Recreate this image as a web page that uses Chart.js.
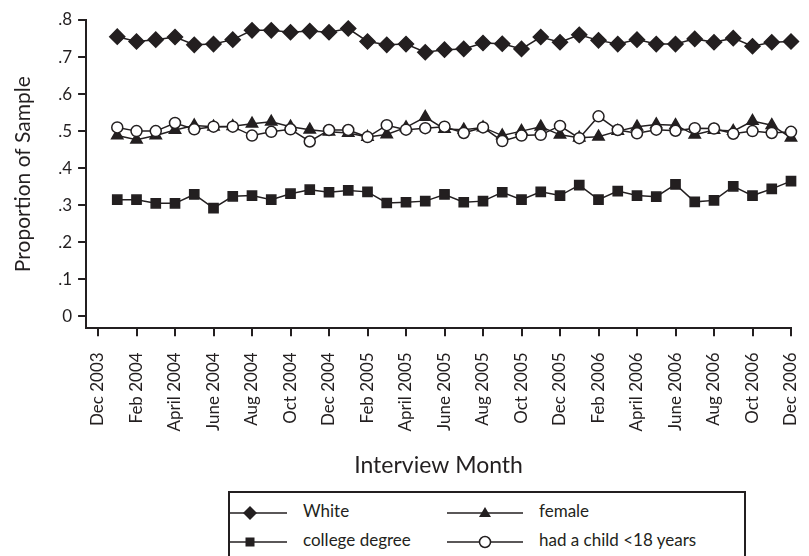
<!DOCTYPE html>
<html lang="en">
<head>
  <meta charset="UTF-8" />
  <title>Proportion of Sample by Interview Month</title>
  <script src="https://cdn.jsdelivr.net/npm/chart.js"></script>
  <style>
    body {
      margin: 0;
      background: #fff;
      font-family: Lato, "Open Sans", Arial, sans-serif;
      color: #231f20;
    }
    #wrap {
      position: relative;
      width: 809px;
      height: 556px;
      overflow: hidden;
    }
    #box {
      position: absolute;
      width: 809px;
      height: 481px;
      left: 0;
      top: 0;
    }
    #legend {
      position: absolute;
      left: 228px;
      top: 491px;
      width: 518px;
      height: 80px;
      border: 2px solid #231f20;
      box-sizing: border-box;
    }
    .item {
      position: absolute;
      height: 24px;
      font-size: 17px;
      line-height: 24px;
      white-space: nowrap;
    }
    .item svg {
      position: absolute;
      top: 0;
      left: 0;
    }
    .item span {
      position: absolute;
      top: -2px;
    }
  </style>
</head>
<body>
  <div id="wrap">
    <div id="box"><canvas id="grafica"></canvas></div>
    <div id="legend"></div>
  </div>

  <script>
    // months since Dec 2003 (1 = Jan 2004 ... 36 = Dec 2006)
    const meses = Array.from({ length: 36 }, (_, i) => i + 1);

    const etiquetasX = ['Dec 2003', 'Feb 2004', 'April 2004', 'June 2004', 'Aug 2004', 'Oct 2004',
      'Dec 2004', 'Feb 2005', 'April 2005', 'June 2005', 'Aug 2005', 'Oct 2005', 'Dec 2005',
      'Feb 2006', 'April 2006', 'June 2006', 'Aug 2006', 'Oct 2006', 'Dec 2006'];

    const white = [.755, .742, .747, .754, .733, .735, .747, .772, .772, .767, .770, .767,
      .777, .742, .733, .735, .713, .720, .722, .738, .736, .722, .754, .740,
      .760, .745, .735, .747, .735, .735, .749, .740, .751, .729, .740, .742];

    const female = [.488, .477, .488, .503, .515, .512, .513, .520, .525, .512, .504, .498,
      .495, .484, .491, .510, .538, .506, .504, .510, .488, .500, .512, .490,
      .482, .485, .500, .512, .518, .516, .490, .503, .500, .527, .516, .482];

    const college = [.315, .315, .305, .305, .329, .292, .324, .326, .315, .331, .342, .335,
      .340, .336, .306, .308, .311, .329, .308, .311, .335, .315, .336, .326,
      .354, .315, .338, .326, .323, .356, .309, .313, .351, .326, .344, .365];

    const child = [.510, .500, .500, .522, .505, .512, .512, .488, .498, .505, .472, .503,
      .503, .484, .516, .504, .508, .512, .495, .510, .473, .488, .490, .514,
      .481, .540, .503, .494, .504, .501, .508, .507, .493, .500, .495, .498];

    const ticksY = [0, .1, .2, .3, .4, .5, .6, .7, .8];

    const negro = '#231f20';

    function serie(label, valores, estilo, radio, relleno) {
      return {
        label: label,
        data: valores.map((v, i) => ({ x: meses[i], y: v })),
        borderColor: negro,
        borderWidth: 1.5,
        pointStyle: estilo,
        pointRadius: radio,
        pointBackgroundColor: relleno,
        pointBorderColor: negro,
        pointBorderWidth: 1.5,
        clip: false,
        fill: false,
        tension: 0
      };
    }

    const series = [
      serie('White', white, 'rectRot', 7.5, negro),
      serie('college degree', college, 'rect', 6.5, negro),
      serie('had a child <18 years', child, 'circle', 5.5, '#fff'),
      serie('female', female, 'triangle', 6.5, negro)
    ];

    Chart.defaults.font.family = 'Lato, "Open Sans", Arial, sans-serif';
    Chart.defaults.color = negro;

    const ctx = document.getElementById('grafica').getContext('2d');
    new Chart(ctx, {
      type: 'line',
      data: { datasets: series },
      options: {
        responsive: true,
        maintainAspectRatio: false,
        animation: false,
        layout: { padding: { left: 11, right: 18, top: 20, bottom: 2 } },
        plugins: {
          legend: { display: false },
          tooltip: { enabled: false }
        },
        scales: {
          x: {
            type: 'linear',
            min: -0.62,
            max: 36,
            afterBuildTicks: (axis) => {
              axis.ticks = etiquetasX.map((_, i) => ({ value: i * 2 }));
            },
            // the rotated end labels should not push the plot inwards
            afterFit: (axis) => {
              axis.paddingLeft = 0;
              axis.paddingRight = 0;
            },
            ticks: {
              autoSkip: false,
              minRotation: 90,
              maxRotation: 90,
              padding: 16,
              font: { size: 17 },
              callback: (v) => etiquetasX[Math.round(v / 2)]
            },
            grid: { drawOnChartArea: false, drawTicks: true, tickLength: 8, color: negro, lineWidth: 2 },
            border: { display: true, color: negro, width: 2 },
            title: { display: true, text: 'Interview Month', font: { size: 23 }, padding: { top: 4, bottom: 0 } }
          },
          y: {
            min: -0.0324,
            max: 0.8,
            afterBuildTicks: (axis) => {
              axis.ticks = ticksY.map((v) => ({ value: v }));
            },
            ticks: {
              padding: 6,
              font: { size: 17 },
              callback: (v) => (v === 0 ? '0' : '.' + Math.round(v * 10))
            },
            grid: { drawOnChartArea: false, drawTicks: true, tickLength: 8, color: negro, lineWidth: 2 },
            border: { display: true, color: negro, width: 2 },
            title: { display: true, text: 'Proportion of Sample', font: { size: 21 }, padding: { top: 0, bottom: 16 } }
          }
        }
      }
    });

    // HTML legend built from the datasets
    const posLeyenda = [
      { serie: 0, left: 0, top: 8 },
      { serie: 3, left: 217, top: 8 },
      { serie: 1, left: 0, top: 37 },
      { serie: 2, left: 217, top: 37 }
    ];

    function simbolo(ds, largo, cx) {
      const y = 12;
      let m = '';
      if (ds.pointStyle === 'rectRot') {
        m = `<polygon points="${cx},${y - 7} ${cx + 7},${y} ${cx},${y + 7} ${cx - 7},${y}" fill="${negro}"/>`;
      } else if (ds.pointStyle === 'rect') {
        m = `<rect x="${cx - 4.5}" y="${y - 4.5}" width="9" height="9" fill="${negro}"/>`;
      } else if (ds.pointStyle === 'triangle') {
        m = `<polygon points="${cx},${y - 6} ${cx + 6},${y + 4} ${cx - 6},${y + 4}" fill="${negro}"/>`;
      } else {
        m = `<circle cx="${cx}" cy="${y}" r="5.5" fill="#fff" stroke="${negro}" stroke-width="1.5"/>`;
      }
      return `<svg width="${largo}" height="24"><line x1="0" y1="${y}" x2="${largo}" y2="${y}" stroke="${negro}" stroke-width="1.5"/>${m}</svg>`;
    }

    const leyenda = document.getElementById('legend');
    posLeyenda.forEach((p) => {
      const ds = series[p.serie];
      const div = document.createElement('div');
      div.className = 'item';
      div.style.left = p.left + 'px';
      div.style.top = p.top + 'px';
      const largo = p.left === 0 ? 57 : 76;
      const cx = p.left === 0 ? 20 : 38;
      div.innerHTML = simbolo(ds, largo, cx) + `<span style="left:${largo + 16}px"></span>`;
      div.querySelector('span').textContent = ds.label;
      leyenda.appendChild(div);
    });
  </script>
</body>
</html>
